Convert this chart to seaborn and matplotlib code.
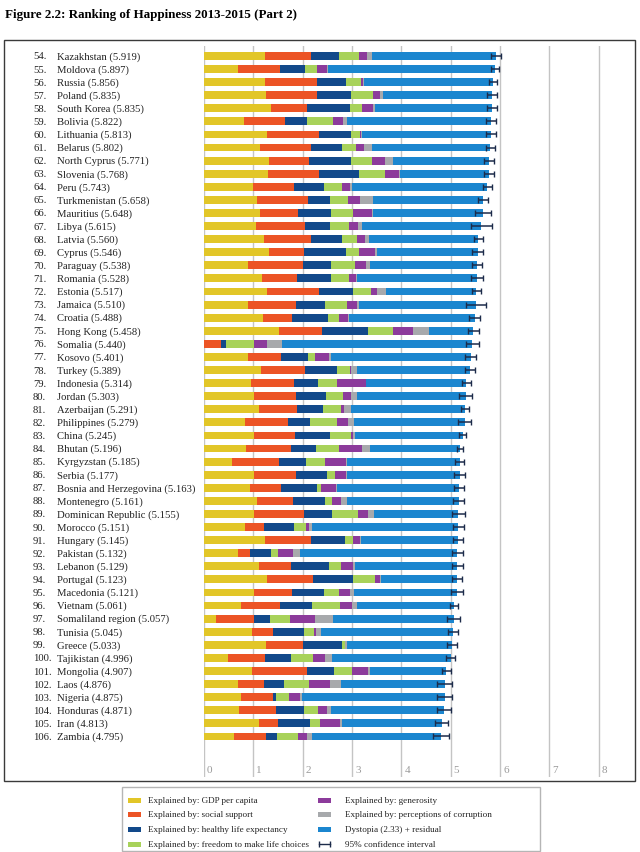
import pandas as pd
import seaborn as sns
import matplotlib.pyplot as plt
import numpy as np
from matplotlib.patches import Rectangle
from matplotlib.lines import Line2D
import matplotlib.transforms as mtransforms

# donnees (rangs 54 a 106)
countries = ["Kazakhstan", "Moldova", "Russia", "Poland", "South Korea", "Bolivia", "Lithuania",
             "Belarus", "North Cyprus", "Slovenia", "Peru", "Turkmenistan", "Mauritius", "Libya",
             "Latvia", "Cyprus", "Paraguay", "Romania", "Estonia", "Jamaica", "Croatia", "Hong Kong",
             "Somalia", "Kosovo", "Turkey", "Indonesia", "Jordan", "Azerbaijan", "Philippines", "China",
             "Bhutan", "Kyrgyzstan", "Serbia", "Bosnia and Herzegovina", "Montenegro",
             "Dominican Republic", "Morocco", "Hungary", "Pakistan", "Lebanon", "Portugal", "Macedonia",
             "Vietnam", "Somaliland region", "Tunisia", "Greece", "Tajikistan", "Mongolia", "Laos",
             "Nigeria", "Honduras", "Iran", "Zambia"]
first_rank = 54
scores = [5.919, 5.897, 5.856, 5.835, 5.835, 5.822, 5.813, 5.802, 5.771, 5.768, 5.743, 5.658, 5.648,
          5.615, 5.560, 5.546, 5.538, 5.528, 5.517, 5.510, 5.488, 5.458, 5.440, 5.401, 5.389, 5.314,
          5.303, 5.291, 5.279, 5.245, 5.196, 5.185, 5.177, 5.163, 5.161, 5.155, 5.151, 5.145, 5.132,
          5.129, 5.123, 5.121, 5.061, 5.057, 5.045, 5.033, 4.996, 4.907, 4.876, 4.875, 4.871, 4.813,
          4.795]
gdp = [1.23, 0.68, 1.23, 1.25, 1.36, 0.81, 1.27, 1.13, 1.31, 1.29, 1.00, 1.08, 1.14, 1.06, 1.22, 1.31,
       0.90, 1.18, 1.27, 0.90, 1.20, 1.515, 0.00, 0.90, 1.16, 0.96, 1.01, 1.12, 0.83, 1.02, 0.86, 0.56,
       1.02, 0.94, 1.08, 1.02, 0.835, 1.24, 0.68, 1.11, 1.27, 1.02, 0.74, 0.24, 0.98, 1.25, 0.49, 0.98,
       0.68, 0.74, 0.70, 1.12, 0.61]
social = [0.94, 0.855, 1.05, 1.03, 0.72, 0.83, 1.05, 1.045, 0.82, 1.05, 0.82, 1.02, 0.77, 0.98, 0.94,
          0.72, 1.10, 0.71, 1.06, 0.96, 0.59, 0.875, 0.34, 0.655, 0.89, 0.865, 0.85, 0.77, 0.87, 0.82,
          0.90, 0.955, 0.84, 0.63, 0.73, 1.00, 0.375, 0.92, 0.25, 0.66, 0.93, 0.77, 0.79, 0.78, 0.42,
          0.76, 0.75, 1.10, 0.53, 0.65, 0.755, 0.38, 0.64]
health = [0.57, 0.505, 0.60, 0.70, 0.88, 0.45, 0.66, 0.62, 0.85, 0.81, 0.61, 0.46, 0.66, 0.51, 0.64,
          0.84, 0.58, 0.69, 0.68, 0.60, 0.72, 0.94, 0.10, 0.55, 0.64, 0.485, 0.605, 0.53, 0.44, 0.72,
          0.50, 0.545, 0.63, 0.72, 0.65, 0.58, 0.615, 0.69, 0.42, 0.755, 0.81, 0.65, 0.65, 0.31, 0.62,
          0.79, 0.53, 0.55, 0.41, 0.06, 0.575, 0.65, 0.225]
freedom = [0.40, 0.24, 0.30, 0.45, 0.25, 0.52, 0.19, 0.29, 0.43, 0.515, 0.37, 0.36, 0.44, 0.385, 0.29,
           0.28, 0.47, 0.35, 0.38, 0.44, 0.22, 0.49, 0.57, 0.135, 0.26, 0.39, 0.35, 0.36, 0.56, 0.42,
           0.47, 0.40, 0.16, 0.09, 0.14, 0.52, 0.235, 0.17, 0.14, 0.255, 0.445, 0.29, 0.58, 0.41, 0.21,
           0.06, 0.44, 0.37, 0.51, 0.28, 0.28, 0.21, 0.425]
generosity = [0.17, 0.22, 0.04, 0.13, 0.21, 0.21, 0.02, 0.155, 0.25, 0.28, 0.15, 0.24, 0.39, 0.19, 0.17,
              0.32, 0.24, 0.15, 0.11, 0.21, 0.19, 0.41, 0.26, 0.29, 0.03, 0.585, 0.16, 0.05, 0.22, 0.04,
              0.47, 0.41, 0.22, 0.30, 0.18, 0.21, 0.07, 0.145, 0.32, 0.24, 0.11, 0.23, 0.24, 0.51, 0.04,
              0.00, 0.25, 0.33, 0.43, 0.22, 0.19, 0.40, 0.195]
corruption = [0.09, 0.01, 0.03, 0.07, 0.05, 0.08, 0.01, 0.17, 0.16, 0.03, 0.05, 0.26, 0.03, 0.085, 0.08,
              0.03, 0.08, 0.01, 0.18, 0.04, 0.02, 0.32, 0.32, 0.05, 0.12, 0.00, 0.13, 0.15, 0.11, 0.04,
              0.17, 0.03, 0.03, 0.01, 0.12, 0.12, 0.06, 0.02, 0.14, 0.03, 0.03, 0.07, 0.11, 0.36, 0.10,
              0.04, 0.13, 0.04, 0.21, 0.03, 0.08, 0.03, 0.095]
ci_half = [0.10, 0.085, 0.08, 0.11, 0.10, 0.10, 0.095, 0.095, 0.10, 0.10, 0.10, 0.10, 0.16, 0.215, 0.09,
           0.115, 0.10, 0.12, 0.09, 0.20, 0.11, 0.11, 0.13, 0.11, 0.11, 0.09, 0.13, 0.08, 0.135, 0.07,
           0.06, 0.09, 0.11, 0.10, 0.11, 0.13, 0.11, 0.11, 0.11, 0.11, 0.10, 0.12, 0.085, 0.135, 0.10,
           0.10, 0.085, 0.09, 0.145, 0.15, 0.14, 0.125, 0.16]
axis_ticks = [0, 1, 2, 3, 4, 5, 6, 7, 8]

labels = ["Explained by: GDP per capita", "Explained by: social support",
          "Explained by: healthy life expectancy", "Explained by: freedom to make life choices",
          "Explained by: generosity", "Explained by: perceptions of corruption",
          "Dystopia (2.33) + residual"]
colors = ["#E2C628", "#EC5425", "#12498A", "#A8D25A", "#8C3B9B", "#A7A9AC", "#1B86CF"]
err_color = "#1C2B4A"

df = pd.DataFrame({"country": countries, "score": scores, "gdp": gdp, "social": social,
                   "health": health, "freedom": freedom, "generosity": generosity,
                   "corruption": corruption})
parts = ["gdp", "social", "health", "freedom", "generosity", "corruption"]
df["dystopia"] = df["score"] - df[parts].sum(axis=1)
parts = parts + ["dystopia"]
cum = df[parts].cumsum(axis=1)
for p in parts:
    df["cum_" + p] = cum[p]

serif = "Liberation Serif"
W, H = 640, 853
fig = plt.figure(figsize=(6.4, 8.53), dpi=100)

def fx(px):
    return px / W

def fy(py):
    return 1 - py / H

ax = fig.add_axes([fx(204), fy(778), fx(625) - fx(204), fy(47) - fy(778)])

# barres empilees : on trace les cumuls du plus grand au plus petit
for p, c in reversed(list(zip(parts, colors))):
    sns.barplot(data=df, x="cum_" + p, y="country", color=c, saturation=1, width=0.6,
                errorbar=None, linewidth=0, orient="h", ax=ax, zorder=2)

ypos = np.arange(len(countries))
ax.errorbar(df["score"], ypos, xerr=ci_half, fmt="none", ecolor=err_color, elinewidth=1.1,
            capsize=2.2, capthick=1.0, zorder=3)

ax.set_xlim(0, 8.53)
ax.set_ylim(55.1, -0.76)
ax.set_xticks(axis_ticks)
ax.set_yticks([])
ax.set_xlabel("")
ax.set_ylabel("")
ax.tick_params(length=0, labelbottom=False)
ax.xaxis.grid(True, color="#c4c4c4", linewidth=1.0)
ax.set_axisbelow(True)
for s in ax.spines.values():
    s.set_visible(False)
for t in axis_ticks:
    ax.text(t + 0.06, 54.5, str(t), color="#9a9a9a", fontsize=8, family=serif, va="center", ha="left")

# etiquettes des pays
trans = mtransforms.blended_transform_factory(fig.transFigure, ax.transData)
for i, (name, sc) in enumerate(zip(countries, scores)):
    ax.text(fx(33), i, f"{first_rank + i}.", transform=trans, fontsize=7.7, family=serif,
            color="#222222", va="center", ha="left")
    ax.text(fx(57), i, f"{name} ({sc:.3f})", transform=trans, fontsize=7.7, family=serif,
            color="#222222", va="center", ha="left")

# titre et cadres
fig.text(fx(5), fy(15), "Figure 2.2: Ranking of Happiness 2013-2015 (Part 2)", fontsize=9.4,
         fontweight="bold", family=serif, va="center", ha="left")
fig.add_artist(Rectangle((fx(4), fy(782)), fx(635) - fx(4), fy(41) - fy(782),
                         transform=fig.transFigure, fill=False, edgecolor="#3a3a3a", linewidth=1.0))
fig.add_artist(Rectangle((fx(122), fy(852)), fx(540) - fx(122), fy(788) - fy(852),
                         transform=fig.transFigure, fill=False, edgecolor="#b5b5b5", linewidth=1.0))

# legende faite a la main
rows_y = [801, 815, 830, 845]
entries = list(zip(labels, colors))
for k, (lab, c) in enumerate(entries):
    col = 0 if k < 4 else 1
    py = rows_y[k % 4]
    sx = 128 if col == 0 else 318
    tx = 148 if col == 0 else 345
    fig.add_artist(Rectangle((fx(sx), fy(py + 2.5)), fx(13), 5 / H, transform=fig.transFigure,
                             facecolor=c, edgecolor="none"))
    fig.text(fx(tx), fy(py), lab, fontsize=6.6, family=serif, color="#222222", va="center", ha="left")
fig.add_artist(Line2D([fx(319), fx(330)], [fy(845), fy(845)], transform=fig.transFigure,
                      color=err_color, linewidth=1, marker="|", markersize=4))
fig.text(fx(345), fy(845), "95% confidence interval", fontsize=6.6, family=serif, color="#222222",
         va="center", ha="left")

fig.savefig("out.png", dpi=100)
